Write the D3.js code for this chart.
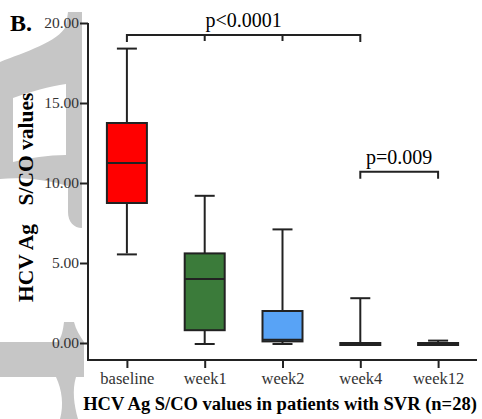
<!DOCTYPE html>
<html>
<head>
<meta charset="utf-8">
<script src="https://cdn.jsdelivr.net/npm/d3@7"></script>
<style>
  html, body { margin: 0; padding: 0; background: #fff; }
  svg { display: block; }
  text { font-family: "Liberation Serif", "Times New Roman", serif; }
</style>
</head>
<body>
<div id="chart"></div>
<script>
// values (HCV Ag S/CO)
var categories = ["baseline", "week1", "week2", "week4", "week12"];
var whiskerLow = [5.6, 0.0, 0.0, 0.0, 0.0];
var q1 = [8.75, 0.8, 0.1, 0.0, 0.0];
var medians = [11.25, 4.0, 0.2, 0.0, 0.0];
var q3 = [13.75, 5.6, 2.0, 0.0, 0.0];
var whiskerHigh = [18.4, 9.2, 7.1, 2.8, 0.15];
var boxColors = ["#ff0000", "#3b7b3a", "#58a3f6", "#ffffff", "#ffffff"];
var yTicks = [0, 5, 10, 15, 20];

var bracketFrom = ["baseline", "week4"];
var bracketTo = ["week4", "week12"];
var bracketLevel = [19.25, 10.7];
var bracketLabels = ["p<0.0001", "p=0.009"];

var width = 482, height = 419;
var margin = {left: 88, right: 5, top: 23, bottom: 59};
var axisY = 360;

var svg = d3.select("#chart").append("svg")
    .attr("width", width)
    .attr("height", height);

// faint grey watermark behind the left side
var marks = svg.append("g").attr("fill", "#c6c6c6").attr("fill-rule", "evenodd");
marks.append("path")
    .attr("d", "M0,62 C25,52 58,42 66,26 L68,12 L82,12 L82,228 C74,228 68,222 68,212 L68,186 C45,179 20,177 0,179 Z" +
               " M13,98 C30,92 50,86 66,84 L66,155 C48,155 30,158 13,162 Z");
marks.append("path")
    .attr("d", "M64,322 L74,322 C76,330 80,336 84,342 L84,377 L76,377 C72,390 74,405 78,419 L60,419 C64,405 62,390 56,377 L0,377 L0,342 L58,342 C62,336 63,330 64,322 Z");

var x = d3.scalePoint()
    .domain(categories)
    .range([margin.left, width - margin.right])
    .padding(0.5);

var y = d3.scaleLinear()
    .domain([0, 20])
    .range([343, margin.top]);

var boxW = 40, capW = 20;

var rows = categories.map(function(c, i) {
    return {cat: c, lo: whiskerLow[i], q1: q1[i], med: medians[i], q3: q3[i], hi: whiskerHigh[i], color: boxColors[i]};
});

var boxes = svg.append("g")
    .attr("stroke", "#222")
    .attr("stroke-width", 2)
    .selectAll("g")
    .data(rows)
    .enter().append("g");

// whiskers
boxes.append("line")
    .attr("x1", function(d) { return x(d.cat); })
    .attr("x2", function(d) { return x(d.cat); })
    .attr("y1", function(d) { return y(d.hi); })
    .attr("y2", function(d) { return y(d.lo); });
boxes.append("line")
    .attr("x1", function(d) { return x(d.cat) - capW / 2; })
    .attr("x2", function(d) { return x(d.cat) + capW / 2; })
    .attr("y1", function(d) { return y(d.hi); })
    .attr("y2", function(d) { return y(d.hi); });
boxes.append("line")
    .attr("x1", function(d) { return x(d.cat) - capW / 2; })
    .attr("x2", function(d) { return x(d.cat) + capW / 2; })
    .attr("y1", function(d) { return y(d.lo) + 1; })
    .attr("y2", function(d) { return y(d.lo) + 1; });

// boxes
boxes.append("rect")
    .attr("x", function(d) { return x(d.cat) - boxW / 2; })
    .attr("width", boxW)
    .attr("y", function(d) { return y(d.q3); })
    .attr("height", function(d) { return Math.max(y(d.q1) - y(d.q3), 2); })
    .attr("fill", function(d) { return d.color; });
boxes.append("line")
    .attr("x1", function(d) { return x(d.cat) - boxW / 2; })
    .attr("x2", function(d) { return x(d.cat) + boxW / 2; })
    .attr("y1", function(d) { return y(d.med); })
    .attr("y2", function(d) { return y(d.med); });

// axes
var yAxis = svg.append("g")
    .attr("transform", "translate(" + margin.left + ",0)")
    .call(d3.axisLeft(y).tickValues(yTicks).tickFormat(d3.format(".2f")).tickSize(8).tickPadding(1));
yAxis.select(".domain").remove();
yAxis.selectAll(".tick line").attr("stroke", "#222").attr("stroke-width", 2);
yAxis.selectAll(".tick text")
    .attr("fill", "#333")
    .style("font-size", "15.5px")
    .style("font-family", "'Liberation Serif', serif");

var xAxis = svg.append("g")
    .attr("transform", "translate(0," + axisY + ")")
    .call(d3.axisBottom(x).tickSize(8).tickSizeOuter(0).tickPadding(4));
xAxis.select(".domain").remove();
xAxis.selectAll(".tick line").attr("stroke", "#222").attr("stroke-width", 2);
xAxis.selectAll(".tick text")
    .attr("fill", "#333")
    .style("font-size", "16.5px")
    .style("font-family", "'Liberation Serif', serif");

svg.append("path")
    .attr("d", "M" + margin.left + "," + y(20) + "V" + axisY + "H" + (width - margin.right))
    .attr("fill", "none")
    .attr("stroke", "#222")
    .attr("stroke-width", 2);

// significance brackets
var brk = svg.append("g");
bracketLabels.forEach(function(label, i) {
    var i0 = categories.indexOf(bracketFrom[i]);
    var i1 = categories.indexOf(bracketTo[i]);
    var x0 = x(bracketFrom[i]), x1 = x(bracketTo[i]), yy = y(bracketLevel[i]);
    brk.append("path")
        .attr("d", "M" + x0 + "," + (yy + 7) + "V" + yy + "H" + x1 + "V" + (yy + 7))
        .attr("fill", "none")
        .attr("stroke", "#222")
        .attr("stroke-width", 2);
    categories.slice(i0 + 1, i1).forEach(function(c) {
        brk.append("line")
            .attr("x1", x(c)).attr("x2", x(c))
            .attr("y1", yy).attr("y2", yy + 6)
            .attr("stroke", "#222")
            .attr("stroke-width", 2);
    });
    brk.append("text")
        .attr("x", (x0 + x1) / 2)
        .attr("y", yy - 8)
        .attr("text-anchor", "middle")
        .style("font-size", "20px")
        .text(label);
});

// titles
svg.append("text")
    .attr("x", 10)
    .attr("y", 31)
    .style("font-size", "24px")
    .style("font-weight", "bold")
    .text("B.");

svg.append("text")
    .attr("x", 280)
    .attr("y", 410)
    .attr("text-anchor", "middle")
    .style("font-size", "18.5px")
    .style("font-weight", "bold")
    .text("HCV Ag S/CO values in patients with SVR (n=28)");

svg.append("text")
    .attr("transform", "translate(33,263) rotate(-90)")
    .attr("text-anchor", "middle")
    .style("font-size", "21.5px")
    .style("font-weight", "bold")
    .text("HCV Ag");
svg.append("text")
    .attr("transform", "translate(33,149) rotate(-90)")
    .attr("text-anchor", "middle")
    .style("font-size", "21.5px")
    .style("font-weight", "bold")
    .text("S/CO values");
</script>
</body>
</html>
